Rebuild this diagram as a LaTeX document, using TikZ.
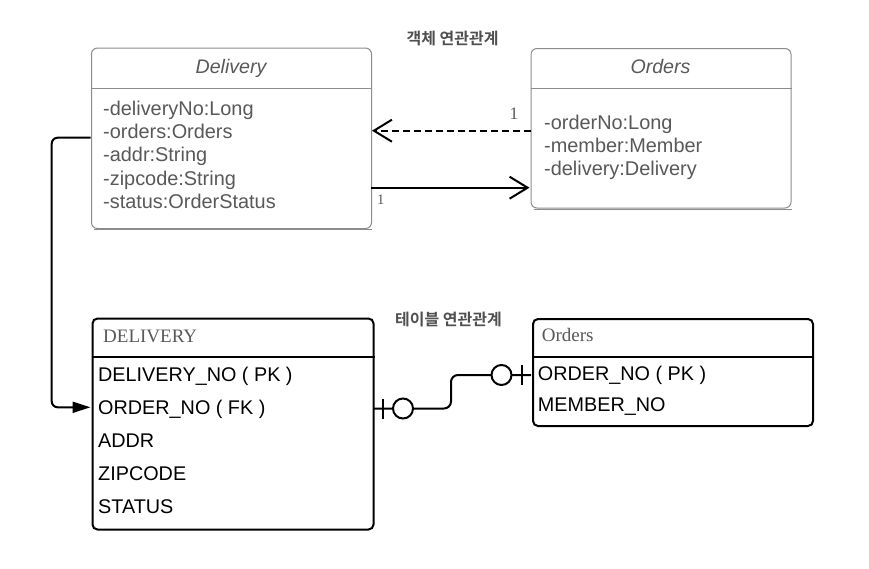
\documentclass[tikz,border=0pt]{standalone}
\usepackage{fontspec}
\setmainfont{Liberation Sans}
\newfontfamily\serifF{Liberation Serif}
\newfontfamily\krF{Noto Sans CJK KR Bold}
\usetikzlibrary{arrows.meta}
\definecolor{clsline}{HTML}{8C8C8C}
\definecolor{clstext}{HTML}{595959}
\definecolor{krtext}{HTML}{505050}
\tikzset{
  clsbox/.style={draw=clsline, line width=1pt, rounded corners=6pt, inner sep=0pt, anchor=north west},
  erbox/.style={draw=black, line width=2pt, rounded corners=5pt, inner sep=0pt, anchor=north west},
  attr/.style={anchor=base west, inner sep=0pt, text=clstext, font=\fontsize{19.9}{20}\selectfont},
  ctitle/.style={anchor=base, inner sep=0pt, text=clstext, font=\fontsize{19.6}{20}\selectfont\itshape},
  erattr/.style={anchor=base west, inner sep=0pt, text=black, font=\fontsize{19.8}{20}\selectfont},
  ertitle/.style={anchor=base west, inner sep=0pt, text=clstext, font=\serifF\fontsize{19}{20}\selectfont},
  krlabel/.style={anchor=base, inner sep=0pt, text=krtext, font=\krF\fontsize{16}{18}\selectfont},
  mult/.style={anchor=base, inner sep=0pt, text=clstext},
  conn/.style={draw=black, line width=2pt},
  ercircle/.style={circle, draw=black, fill=white, line width=2pt, minimum size=20pt, inner sep=0pt},
}
\begin{document}
\begin{tikzpicture}[x=1pt,y=-1pt]
\useasboundingbox[fill=white] (0,0) rectangle (869,568);

% ---------- object association ----------
\node[krlabel] (lbl1) at (452.5,44) {객체 연관관계};

% Delivery class
\node[clsbox, minimum width=280pt, minimum height=180.5pt] (dbox) at (91,47.5) {};
\draw[draw=clsline, line width=1pt] ([yshift=-40.8pt]dbox.north west) -- ([yshift=-40.8pt]dbox.north east);
\draw[draw=clsline, line width=1pt] ([xshift=3pt,yshift=-0.5pt]dbox.south west) -- ([yshift=-0.5pt]dbox.south east);
\node[ctitle] (dtitle) at (231,73.3) {Delivery};
\node[attr] (da1) at (103,115) {-deliveryNo:Long};
\node[attr] (da2) at (103,138.3) {-orders:Orders};
\node[attr] (da3) at (103,161.7) {-addr:String};
\node[attr] (da4) at (103,185) {-zipcode:String};
\node[attr] (da5) at (103,208.3) {-status:OrderStatus};

% Orders class
\node[clsbox, minimum width=260pt, minimum height=159.5pt] (obox) at (530.5,48) {};
\draw[draw=clsline, line width=1pt] ([yshift=-40.3pt]obox.north west) -- ([yshift=-40.3pt]obox.north east);
\draw[draw=clsline, line width=1pt] ([xshift=3pt,yshift=-0.5pt]obox.south west) -- ([yshift=-0.5pt]obox.south east);
\node[ctitle] (otitle) at (660.5,73.3) {Orders};
\node[attr] (oa1) at (544,129) {-orderNo:Long};
\node[attr] (oa2) at (544,152.3) {-member:Member};
\node[attr] (oa3) at (544,175.7) {-delivery:Delivery};

% associations
\coordinate (dashS) at (530.5,130.7);
\coordinate (dashE) at (372,130.7);
\draw[conn, dash pattern=on 7pt off 4pt, -{Straight Barb[length=18pt,width=22pt,line width=2pt]}] (dashS) -- (dashE);
\node[mult, font=\serifF\fontsize{17.5}{18}\selectfont] (m1) at (514,119) {1};

\coordinate (solS) at (371,187.7);
\coordinate (solE) at (529.5,187.7);
\draw[conn, -{Straight Barb[length=18pt,width=22pt,line width=2pt]}] (solS) -- (solE);
\node[mult, font=\serifF\fontsize{14.5}{16}\selectfont] (m2) at (380.7,204) {1};

% ---------- table association ----------
\node[krlabel] (lbl2) at (448.5,325) {테이블 연관관계};

% DELIVERY table
\node[erbox, minimum width=281pt, minimum height=211pt] (dtab) at (91.5,317.5) {};
\draw[draw=black, line width=2pt] ([yshift=-39.8pt]dtab.north west) -- ([yshift=-39.8pt]dtab.north east);
\node[ertitle] (dtt) at (103,342.3) {DELIVERY};
\node[erattr] (dr1) at (98,381) {DELIVERY\_NO ( PK )};
\node[erattr] (dr2) at (98,414.2) {ORDER\_NO ( FK )};
\node[erattr] (dr3) at (98,447.3) {ADDR};
\node[erattr] (dr4) at (98,480.5) {ZIPCODE};
\node[erattr] (dr5) at (98,513.6) {STATUS};

% Orders table
\node[erbox, minimum width=280pt, minimum height=107pt] (otab) at (532,318) {};
\draw[draw=black, line width=2pt] ([yshift=-39.3pt]otab.north west) -- ([yshift=-39.3pt]otab.north east);
\node[ertitle] (ott) at (541.7,341.7) {Orders};
\node[erattr] (or1) at (537.7,380.5) {ORDER\_NO ( PK )};
\node[erattr] (or2) at (537.7,411.7) {MEMBER\_NO};

% object -> table connector
\coordinate (lp1) at (90.5,137.7);
\coordinate (lp2) at (51.7,407.3);
\coordinate (lp3) at (90.5,407.3);
\draw[conn, rounded corners=6pt, -{Triangle[length=18pt,width=11pt]}] (lp1) -| (lp2) -- (lp3);

% ER relation
\coordinate (e1) at (373,408.5);
\coordinate (e2) at (451,408.5);
\coordinate (e3) at (451,375);
\coordinate (e4) at (531,375);
\draw[conn, rounded corners=7pt] (e1) -- (e2) -- (e3) -- (e4);
\node[ercircle] (c1) at (403,408.5) {};
\node[ercircle] (c2) at (501.5,375) {};
\coordinate (t1a) at (383.3,398.5);
\coordinate (t1b) at (383.3,418.5);
\coordinate (t2a) at (521.5,365);
\coordinate (t2b) at (521.5,385);
\draw[conn] (t1a) -- (t1b);
\draw[conn] (t2a) -- (t2b);
\end{tikzpicture}
\end{document}
